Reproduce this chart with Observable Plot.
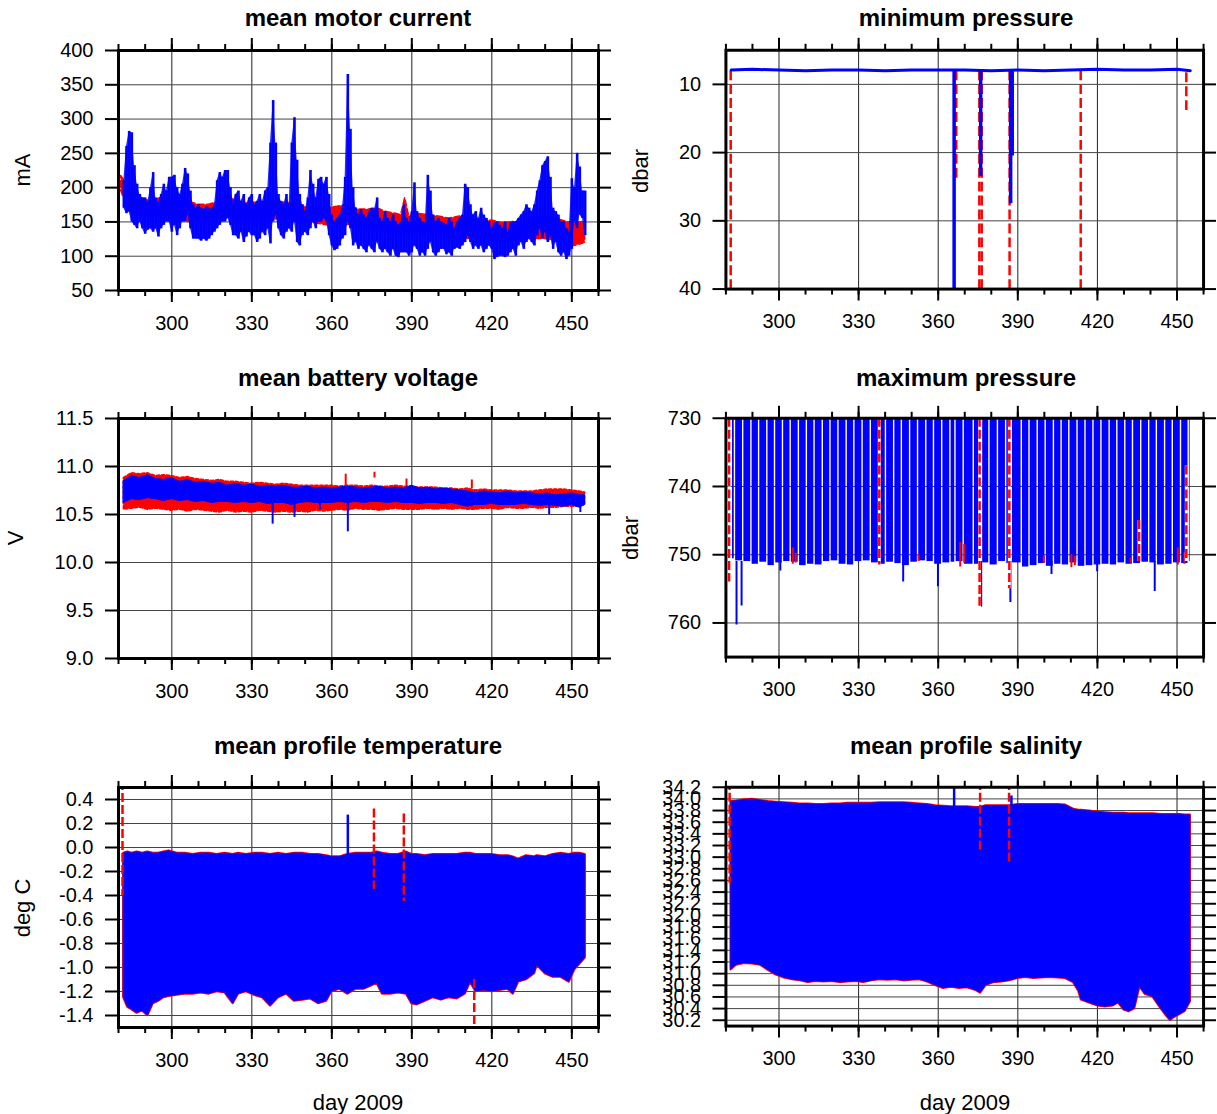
<!DOCTYPE html>
<html><head><meta charset="utf-8">
<script src="https://cdn.jsdelivr.net/npm/d3@7"></script>
<script src="https://cdn.jsdelivr.net/npm/@observablehq/plot@0.6"></script>
<style>
body{margin:0;background:#fff;font-family:"Liberation Sans",Arial,Helvetica,sans-serif;}
#wrap{position:relative;width:1217px;height:1114px;overflow:hidden;background:#fff;}
.panel{position:absolute;}
.title{position:absolute;font-weight:bold;font-size:24px;transform:translate(-50%,-50%);white-space:nowrap;color:#000;}
.ylab{position:absolute;font-size:22px;transform:translate(-50%,-50%) rotate(-90deg);white-space:nowrap;}
.xlab{position:absolute;font-size:22px;transform:translate(-50%,-50%);white-space:nowrap;}
</style></head><body><div id="wrap"></div>
<script>
// ---------- shared ticks ----------
const xMajor = [300, 330, 360, 390, 420, 450];
const xMinor = [280, 290, 300, 310, 320, 330, 340, 350, 360, 370, 380, 390, 400, 410, 420, 430, 440, 450, 460];
const mcTicks = [50, 100, 150, 200, 250, 300, 350, 400];
const mnTicks = [10, 20, 30, 40];
const bvTicks = [9.0, 9.5, 10.0, 10.5, 11.0, 11.5];
const mxTicks = [730, 740, 750, 760];
const tTicks = [-1.4, -1.2, -1.0, -0.8, -0.6, -0.4, -0.2, 0.0, 0.2, 0.4];
const sTicks = [30.2, 30.4, 30.6, 30.8, 31.0, 31.2, 31.4, 31.6, 31.8, 32.0, 32.2, 32.4, 32.6, 32.8, 33.0, 33.2, 33.4, 33.6, 33.8, 34.0, 34.2];

// ---------- mean motor current (mA) ----------
const mcDay = [282,283,284,285,286,287,288,289,290,291,292,293,294,295,296,297,298,299,300,301,
302,303,304,305,306,307,308,309,310,311,312,313,314,315,316,317,318,319,320,321,
322,323,324,325,326,327,328,329,330,331,332,333,334,335,336,337,338,339,340,341,
342,343,344,345,346,347,348,349,350,351,352,353,354,355,356,357,358,359,360,361,
362,363,364,365,366,367,368,369,370,371,372,373,374,375,376,377,378,379,380,381,
382,383,384,385,386,387,388,389,390,391,392,393,394,395,396,397,398,399,400,401,
402,403,404,405,406,407,408,409,410,411,412,413,414,415,416,417,418,419,420,421,
422,423,424,425,426,427,428,429,430,431,432,433,434,435,436,437,438,439,440,441,
442,443,444,445,446,447,448,449,450,451,452,453,454,455];
const mcLo = [170,162,165,150,145,140,150,140,132,138,
140,135,140,128,140,145,150,150,135,145,
130,140,150,150,160,140,125,125,125,122,
125,122,125,130,135,140,145,150,150,155,
145,130,130,125,135,120,128,135,130,130,
120,125,135,130,140,118,150,160,140,130,
125,135,140,135,150,120,115,130,135,130,
140,150,140,150,150,155,150,130,115,108,
110,115,125,130,150,140,115,120,110,115,
110,105,115,110,105,120,110,105,110,105,
100,110,100,98,105,105,105,100,105,115,
110,100,105,100,110,120,105,100,105,110,
110,102,105,100,110,112,110,115,120,130,
120,110,115,110,115,105,110,115,110,95,
98,100,100,98,100,105,110,100,115,120,
110,120,125,120,115,130,140,125,135,120,
130,110,120,105,100,105,95,100,110,150,
140,160,155,130];
const mcHi = [210,260,282,280,232,205,190,185,185,178,
200,222,185,178,190,205,195,215,215,218,
200,190,205,228,220,195,175,170,175,170,
168,172,170,168,175,210,222,215,225,225,
200,180,190,195,180,190,175,185,190,175,
180,190,180,195,200,265,327,265,190,180,
175,190,175,265,302,240,190,175,165,185,
225,205,185,212,215,205,215,190,160,150,
155,160,170,215,365,285,200,170,160,168,
160,155,165,170,168,185,155,150,165,155,
150,160,150,145,150,175,155,150,165,207,
165,155,150,148,218,195,160,150,155,150,
148,145,155,150,140,150,155,160,205,200,
175,160,165,155,170,160,155,150,140,148,
150,145,140,150,135,148,150,150,155,160,
165,175,170,165,175,195,210,232,238,245,
215,170,165,160,150,150,140,135,213,200,
250,230,195,195];
const mcRedDay = [281,284,288,292,296,300,304,306,310,314,318,321,325,330,334,338,342,346,350,354,358,362,366,370,374,377,380,384,386,387.5,389,392,396,400,404,408,412,416,420,424,428,432,436,440,444,448,451,454,455];
const mcRedLo = [195,165,160,155,160,160,155,150,150,150,155,160,150,150,150,155,150,150,150,148,145,145,145,140,140,140,135,130,132,135,133,135,130,130,128,125,125,125,122,120,122,125,125,125,122,118,115,118,120];
const mcRedHi = [217,200,185,180,185,185,185,180,175,175,180,190,175,178,178,180,178,178,172,172,170,172,175,168,168,170,165,162,160,185,158,162,160,158,155,158,155,150,152,148,150,150,155,160,155,150,148,150,145];

// ---------- minimum pressure (dbar) ----------
const mnDay = [282, 290, 300, 310, 320, 330, 340, 350, 360, 370, 380, 390, 400, 410, 420, 430, 440, 450, 455];
const mnVal = [7.9, 7.8, 7.9, 8.0, 7.9, 7.9, 8.0, 7.9, 7.9, 7.9, 8.0, 7.9, 8.0, 7.9, 7.8, 7.9, 7.9, 7.8, 8.0];
const mnDropDay = [366.0, 376.0, 387.3, 387.9];
const mnDropTop = [7.9, 7.9, 7.9, 7.9];
const mnDropBot = [45, 23.5, 27.5, 20.5];
const mnRedDay = [281.8, 366.8, 375.5, 376.4, 386.9, 413.7, 453.5];
const mnRedTop = [8.0, 8.0, 8.0, 8.0, 8.0, 8.0, 8.3];
const mnRedBot = [45, 24, 45, 45, 45, 45, 14.3];

// ---------- mean battery voltage (V) ----------
const bvDay = [282,285,288,291,294,297,300,303,306,309,312,315,318,321,324,327,330,333,336,339,342,345,348,351,354,357,360,363,366,369,372,375,378,381,384,387,390,393,396,399,402,405,408,411,414,417,420,423,426,429,432,435,438,441,444,447,450,453,455];
const bvBlueHi = [10.85,10.90,10.88,10.91,10.87,10.86,10.88,10.84,10.86,10.83,10.84,10.82,10.83,10.80,10.82,10.80,10.81,10.79,10.80,10.79,10.80,10.78,10.78,10.79,10.77,10.78,10.77,10.78,10.79,10.78,10.77,10.78,10.79,10.77,10.78,10.77,10.80,10.77,10.78,10.76,10.77,10.76,10.75,10.74,10.72,10.74,10.73,10.72,10.74,10.72,10.73,10.72,10.71,10.72,10.70,10.71,10.72,10.70,10.70];
const bvBlueLo = [10.62,10.66,10.65,10.67,10.66,10.64,10.66,10.64,10.65,10.63,10.64,10.62,10.63,10.63,10.62,10.63,10.62,10.63,10.61,10.62,10.62,10.60,10.62,10.63,10.62,10.62,10.62,10.63,10.62,10.63,10.62,10.63,10.63,10.62,10.63,10.62,10.62,10.61,10.62,10.62,10.61,10.62,10.60,10.58,10.60,10.60,10.61,10.60,10.60,10.60,10.61,10.60,10.59,10.60,10.59,10.58,10.60,10.57,10.60];
const bvRedHi = [10.88,10.93,10.92,10.93,10.90,10.91,10.90,10.88,10.89,10.87,10.86,10.85,10.86,10.84,10.84,10.83,10.82,10.83,10.82,10.81,10.82,10.81,10.80,10.80,10.80,10.80,10.80,10.79,10.80,10.80,10.79,10.80,10.79,10.79,10.80,10.79,10.79,10.78,10.78,10.78,10.77,10.77,10.76,10.77,10.75,10.76,10.75,10.75,10.75,10.74,10.74,10.74,10.75,10.76,10.76,10.76,10.75,10.74,10.73];
const bvRedLo = [10.55,10.56,10.57,10.55,10.56,10.55,10.54,10.55,10.53,10.55,10.54,10.53,10.52,10.54,10.52,10.53,10.52,10.54,10.53,10.52,10.53,10.52,10.53,10.52,10.54,10.53,10.54,10.55,10.54,10.56,10.55,10.55,10.54,10.55,10.56,10.55,10.55,10.55,10.56,10.55,10.56,10.55,10.56,10.55,10.55,10.56,10.56,10.55,10.57,10.56,10.56,10.57,10.56,10.57,10.57,10.58,10.58,10.58,10.60];
const bvDipDay = [337.8, 346.0, 355.5, 366.0, 441.5, 453.2];
const bvDipTop = [10.65, 10.65, 10.64, 10.66, 10.62, 10.62];
const bvDipBot = [10.40, 10.47, 10.55, 10.32, 10.50, 10.52];
const bvPeakDay = [365.2, 376.0, 388.0, 412.5];
const bvPeakBot = [10.80, 10.88, 10.79, 10.77];
const bvPeakTop = [10.92, 10.94, 10.87, 10.86];

// ---------- maximum pressure (dbar) ----------
const mxEdge = [282.2,283.4,286.5,289.6,292.5,295.6,298.5,301.5,304.4,307.5,310.5,313.4,316.5,319.4,322.4,325.5,328.4,331.5,334.6,337.75,340.3,343.4,346.3,349.4,352.4,355.5,358.4,361.5,364.6,366.5,369.6,373.4,376.5,379.3,382.5,385.6,387.7,391.5,394.4,397.5,400.5,403.6,406.5,409.4,412.5,415.5,418.5,421.5,424.6,427.5,430.5,433.4,436.5,439.5,442.4,445.5,448.4,451.5,454.4,455.2];
const mxBottom = [750.6,750.9,751.0,751.4,751.1,751.6,751.2,751.0,751.1,751.6,751.4,751.5,751.0,750.9,751.4,751.5,751.0,750.9,751.2,751.4,751.1,751.3,751.6,751.1,750.9,751.0,751.4,751.2,751.1,751.0,751.4,751.4,751.2,751.5,751.0,751.3,751.2,751.8,751.6,751.3,751.7,751.4,751.5,751.2,751.7,751.6,751.5,751.4,751.5,751.2,751.4,751.3,751.1,751.2,751.5,751.4,751.2,751.3,751.0];
const mxShallow = 725; // shallow profiles run off the top of the panel
const mxSpikeDay = [284.0, 285.9, 300.5, 346.8, 359.9, 376.2, 387.2, 402.7, 419.9, 441.6];
const mxSpikeTop = [751, 751, 751, 751, 751, 751, 751, 751, 751, 751];
const mxSpikeVal = [760.3, 757.5, 752.4, 754.0, 754.7, 757.7, 757.0, 752.9, 752.5, 755.4];
const mxRedDay = [281.2, 337.8, 375.6, 386.8, 435.7, 453.5];
const mxRedTop = [730, 730, 730, 730, 745, 737];
const mxRedBot = [754, 751.5, 758, 755, 751, 751];
const mxBitDay = [305.2, 306.3, 352.6, 368.3, 369.8, 399.8, 410.2, 411.5, 432.5, 450.3, 452.8];
const mxBitTop = [749.0, 749.8, 750.0, 748.2, 748.5, 750.2, 750.0, 750.3, 750.5, 749.0, 749.7];
const mxBitBot = [751.4, 751.2, 751.0, 751.8, 751.2, 751.3, 751.9, 751.6, 751.2, 751.5, 751.4];

// ---------- mean profile temperature (deg C) ----------
const tDay = [282,283.5,285,287,289,291,293,295,297,299,302,305,308,311,314,317,320,323,325,328,331,334,337,340,343,346,349,352,355,358,360,363,366,369,372,375,377,379,382,385,388,390,392,395,398,401,404,407,410,412,414,417,420,423,426,428,430,433,436,437,440,443,446,449,451,453,455];
const tTop = [-0.05,-0.04,-0.05,-0.04,-0.05,-0.04,-0.05,-0.05,-0.04,-0.03,-0.05,-0.05,-0.06,-0.05,-0.05,-0.06,-0.05,-0.06,-0.05,-0.06,-0.05,-0.05,-0.06,-0.05,-0.06,-0.05,-0.05,-0.06,-0.06,-0.07,-0.08,-0.08,-0.06,-0.05,-0.05,-0.05,-0.04,-0.05,-0.06,-0.06,-0.04,-0.06,-0.06,-0.07,-0.06,-0.06,-0.06,-0.06,-0.05,-0.05,-0.06,-0.06,-0.06,-0.07,-0.07,-0.08,-0.10,-0.07,-0.08,-0.07,-0.08,-0.06,-0.05,-0.06,-0.05,-0.05,-0.06];
const tBot = [-1.25,-1.33,-1.35,-1.38,-1.36,-1.40,-1.30,-1.28,-1.25,-1.24,-1.23,-1.22,-1.22,-1.21,-1.22,-1.20,-1.21,-1.30,-1.22,-1.20,-1.23,-1.25,-1.32,-1.25,-1.22,-1.28,-1.27,-1.26,-1.30,-1.28,-1.20,-1.18,-1.22,-1.18,-1.18,-1.15,-1.13,-1.22,-1.22,-1.21,-1.22,-1.30,-1.31,-1.28,-1.25,-1.27,-1.25,-1.26,-1.22,-1.12,-1.20,-1.19,-1.20,-1.19,-1.18,-1.22,-1.12,-1.10,-1.05,-0.98,-1.05,-1.08,-1.08,-1.12,-1.02,-0.97,-0.92];
const tRedDay = [281.5, 375.8, 387.0, 413.4];
const tRedTop = [0.55, 0.32, 0.28, -1.10];
const tRedBot = [-0.40, -0.35, -0.45, -1.55];
const tSpikeDay = [366.0];
const tSpikeTop = [0.27];
const tSpikeBot = [-0.06];

// ---------- mean profile salinity ----------
const sDay = [282,284,287,290,293,296,299,302,305,308,311,314,317,320,323,326,329,332,335,338,341,344,347,350,353,356,359,362,365,368,371,374,376,378,381,384,387,390,393,396,399,402,405,408,411,413,414,417,420,423,426,428,430,432,434,436,438,441,444,446,447.5,449,451,453,455];
const sTop = [33.95,33.96,33.98,33.99,33.97,33.95,33.94,33.93,33.92,33.91,33.91,33.90,33.90,33.91,33.91,33.92,33.92,33.92,33.92,33.93,33.93,33.93,33.93,33.92,33.91,33.90,33.88,33.87,33.86,33.86,33.86,33.85,33.85,33.88,33.88,33.88,33.88,33.90,33.90,33.90,33.90,33.90,33.90,33.89,33.82,33.80,33.80,33.79,33.77,33.76,33.75,33.75,33.75,33.74,33.74,33.74,33.74,33.74,33.73,33.73,33.73,33.73,33.73,33.72,33.72];
const sBot = [31.07,31.15,31.18,31.17,31.15,31.06,30.98,30.93,30.90,30.88,30.85,30.87,30.86,30.87,30.85,30.86,30.87,30.85,30.88,30.90,30.89,30.90,30.88,30.89,30.90,30.86,30.80,30.75,30.77,30.75,30.76,30.72,30.67,30.80,30.85,30.86,30.88,30.92,30.94,30.92,30.93,30.94,30.93,30.92,30.85,30.70,30.55,30.50,30.45,30.43,30.45,30.50,30.38,30.35,30.40,30.78,30.65,30.60,30.40,30.28,30.20,30.25,30.30,30.35,30.52];
const sRedDay = [281.4, 375.8, 386.7];
const sRedTop = [34.3, 34.3, 34.3];
const sRedBot = [32.55, 33.07, 32.90];
const sSpikeDay = [366.0, 387.6];
const sSpikeTop = [34.3, 34.05];
const sSpikeBot = [33.86, 33.88];

// ---------- helpers ----------
function zip(cols) {
  const keys = Object.keys(cols);
  return cols[keys[0]].map((_, i) => Object.fromEntries(keys.map(k => [k, cols[k][i]])));
}
const wrap = document.getElementById("wrap");
const FONT = "'Liberation Sans', Arial, Helvetica, sans-serif";
const noText = () => "";

function panel({left, top, yDomain, yReverse, yTicks, yFmt, marks}) {
  const p = Plot.plot({
    width: 612, height: 340,
    marginLeft: 118, marginRight: 14, marginTop: 50, marginBottom: 50,
    x: {domain: [280, 460]},
    y: {domain: yDomain, reverse: !!yReverse},
    style: {fontFamily: FONT, fontSize: "20px", background: "transparent", overflow: "visible", color: "black"},
    marks: [
      Plot.gridX(xMajor, {stroke: "#222", strokeOpacity: 1, strokeWidth: 1}),
      Plot.gridY(yTicks, {stroke: "#444", strokeOpacity: 1, strokeWidth: 1}),
      ...marks,
      Plot.frame({stroke: "black", strokeWidth: 3}),
      Plot.axisX(xMajor, {anchor: "bottom", tickSize: 12, tickPadding: 13, strokeWidth: 2, label: null, tickFormat: d => String(d)}),
      Plot.axisX(xMinor, {anchor: "bottom", tickSize: 6, strokeWidth: 2, label: null, tickFormat: noText}),
      Plot.axisX(xMajor, {anchor: "top", tickSize: 13, strokeWidth: 2, label: null, tickFormat: noText}),
      Plot.axisX(xMinor, {anchor: "top", tickSize: 7, strokeWidth: 2, label: null, tickFormat: noText}),
      Plot.axisY(yTicks, {anchor: "left", tickSize: 13, tickPadding: 12, strokeWidth: 2, label: null, tickFormat: yFmt}),
      Plot.axisY(yTicks, {anchor: "right", tickSize: 12, strokeWidth: 2, label: null, tickFormat: noText})
    ]
  });
  const d = document.createElement("div");
  d.className = "panel";
  d.style.left = left + "px";
  d.style.top = top + "px";
  d.appendChild(p);
  wrap.appendChild(d);
}
function addText(cls, txt, x, y) {
  const e = document.createElement("div");
  e.className = cls; e.textContent = txt;
  e.style.left = x + "px"; e.style.top = y + "px";
  wrap.appendChild(e);
}
const f1 = d => d.toFixed(1);
const fInt = d => String(d);

// Panel 1: mean motor current
panel({left: 0, top: 0, yDomain: [50, 400], yTicks: mcTicks, yFmt: fInt, marks: [
  Plot.areaY(zip({x: mcRedDay, lo: mcRedLo, hi: mcRedHi}), {x: "x", y1: "lo", y2: "hi", fill: "red", stroke: "red", strokeWidth: 1.5, strokeDasharray: "6,3", clip: true}),
  Plot.areaY(zip({x: mcDay, lo: mcLo, hi: mcHi}), {x: "x", y1: "lo", y2: "hi", fill: "blue", fillOpacity: 0.85, clip: true}),
  Plot.ruleX(zip({x: mcDay, lo: mcLo, hi: mcHi}), {x: "x", y1: "lo", y2: "hi", stroke: "blue", strokeWidth: 2.6, clip: true})
]});

// Panel 2: minimum pressure
panel({left: 608, top: 0, yDomain: [5, 40], yReverse: true, yTicks: mnTicks, yFmt: fInt, marks: [
  Plot.ruleX(zip({x: mnRedDay, a: mnRedTop, b: mnRedBot}), {x: "x", y1: "a", y2: "b", stroke: "red", strokeWidth: 2.5, strokeDasharray: "10,4", clip: true}),
  Plot.lineY(zip({x: mnDay, y: mnVal}), {x: "x", y: "y", stroke: "blue", strokeWidth: 3, clip: true}),
  Plot.ruleX(zip({x: mnDropDay, a: mnDropTop, b: mnDropBot}), {x: "x", y1: "a", y2: "b", stroke: "blue", strokeWidth: 3.5, clip: true})
]});

// Panel 3: mean battery voltage
panel({left: 0, top: 368, yDomain: [9.0, 11.5], yTicks: bvTicks, yFmt: f1, marks: [
  Plot.areaY(zip({x: bvDay, lo: bvRedLo, hi: bvRedHi}), {x: "x", y1: "lo", y2: "hi", fill: "red", stroke: "red", strokeWidth: 1.5, strokeDasharray: "3,2", clip: true}),
  Plot.ruleX(zip({x: bvPeakDay, a: bvPeakBot, b: bvPeakTop}), {x: "x", y1: "a", y2: "b", stroke: "red", strokeWidth: 2, clip: true}),
  Plot.areaY(zip({x: bvDay, lo: bvBlueLo, hi: bvBlueHi}), {x: "x", y1: "lo", y2: "hi", fill: "blue", stroke: "blue", strokeWidth: 1, clip: true}),
  Plot.ruleX(zip({x: bvDipDay, a: bvDipTop, b: bvDipBot}), {x: "x", y1: "a", y2: "b", stroke: "blue", strokeWidth: 2, clip: true})
]});

// Panel 4: maximum pressure
const mxBars = mxBottom.map((b, i) => ({a: mxEdge[i], b: mxEdge[i + 1], top: mxShallow, bot: b}));
panel({left: 608, top: 368, yDomain: [730, 765], yReverse: true, yTicks: mxTicks, yFmt: fInt, marks: [
  Plot.rect(mxBars, {x1: "a", x2: "b", y1: "top", y2: "bot", fill: "blue", insetLeft: 0.7, insetRight: 0.7, clip: true}),
  Plot.ruleX(zip({x: mxSpikeDay, a: mxSpikeTop, b: mxSpikeVal}), {x: "x", y1: "a", y2: "b", stroke: "blue", strokeWidth: 2, clip: true}),
  Plot.ruleX(zip({x: mxBitDay, a: mxBitTop, b: mxBitBot}), {x: "x", y1: "a", y2: "b", stroke: "red", strokeWidth: 2, clip: true}),
  Plot.ruleX(zip({x: mxRedDay, a: mxRedTop, b: mxRedBot}), {x: "x", y1: "a", y2: "b", stroke: "white", strokeWidth: 3, clip: true}),
  Plot.ruleX(zip({x: mxRedDay, a: mxRedTop, b: mxRedBot}), {x: "x", y1: "a", y2: "b", stroke: "red", strokeWidth: 2.5, strokeDasharray: "9,3", clip: true})
]});

// Panel 5: mean profile temperature
panel({left: 0, top: 737, yDomain: [-1.5, 0.5], yTicks: tTicks, yFmt: f1, marks: [
  Plot.areaY(zip({x: tDay, lo: tBot, hi: tTop}), {x: "x", y1: "lo", y2: "hi", fill: "red", stroke: "red", strokeWidth: 2.5, clip: true}),
  Plot.areaY(zip({x: tDay, lo: tBot, hi: tTop}), {x: "x", y1: "lo", y2: "hi", fill: "blue", stroke: "blue", strokeWidth: 0.8, clip: true}),
  Plot.ruleX(zip({x: tRedDay, a: tRedTop, b: tRedBot}), {x: "x", y1: "a", y2: "b", stroke: "red", strokeWidth: 2.5, strokeDasharray: "9,3", clip: true}),
  Plot.ruleX(zip({x: tSpikeDay, a: tSpikeTop, b: tSpikeBot}), {x: "x", y1: "a", y2: "b", stroke: "blue", strokeWidth: 2.5, clip: true})
]});

// Panel 6: mean profile salinity
panel({left: 608, top: 737, yDomain: [30.1, 34.2], yTicks: sTicks, yFmt: f1, marks: [
  Plot.areaY(zip({x: sDay, lo: sBot, hi: sTop}), {x: "x", y1: "lo", y2: "hi", fill: "red", stroke: "red", strokeWidth: 2.5, clip: true}),
  Plot.areaY(zip({x: sDay, lo: sBot, hi: sTop}), {x: "x", y1: "lo", y2: "hi", fill: "blue", stroke: "blue", strokeWidth: 0.8, clip: true}),
  Plot.ruleX(zip({x: sRedDay, a: sRedTop, b: sRedBot}), {x: "x", y1: "a", y2: "b", stroke: "red", strokeWidth: 2.5, strokeDasharray: "9,3", clip: true}),
  Plot.ruleX(zip({x: sSpikeDay, a: sSpikeTop, b: sSpikeBot}), {x: "x", y1: "a", y2: "b", stroke: "blue", strokeWidth: 2.5, clip: true})
]});

// ---------- texts ----------
addText("title", "mean motor current", 358, 18);
addText("title", "minimum pressure", 966, 18);
addText("title", "mean battery voltage", 358, 378);
addText("title", "maximum pressure", 966, 378);
addText("title", "mean profile temperature", 358, 746);
addText("title", "mean profile salinity", 966, 746);
addText("ylab", "mA", 23, 170);
addText("ylab", "dbar", 641, 171);
addText("ylab", "V", 16, 538);
addText("ylab", "dbar", 631, 538);
addText("ylab", "deg C", 23, 908);
addText("xlab", "day 2009", 358, 1103);
addText("xlab", "day 2009", 965, 1103);
</script></body></html>
